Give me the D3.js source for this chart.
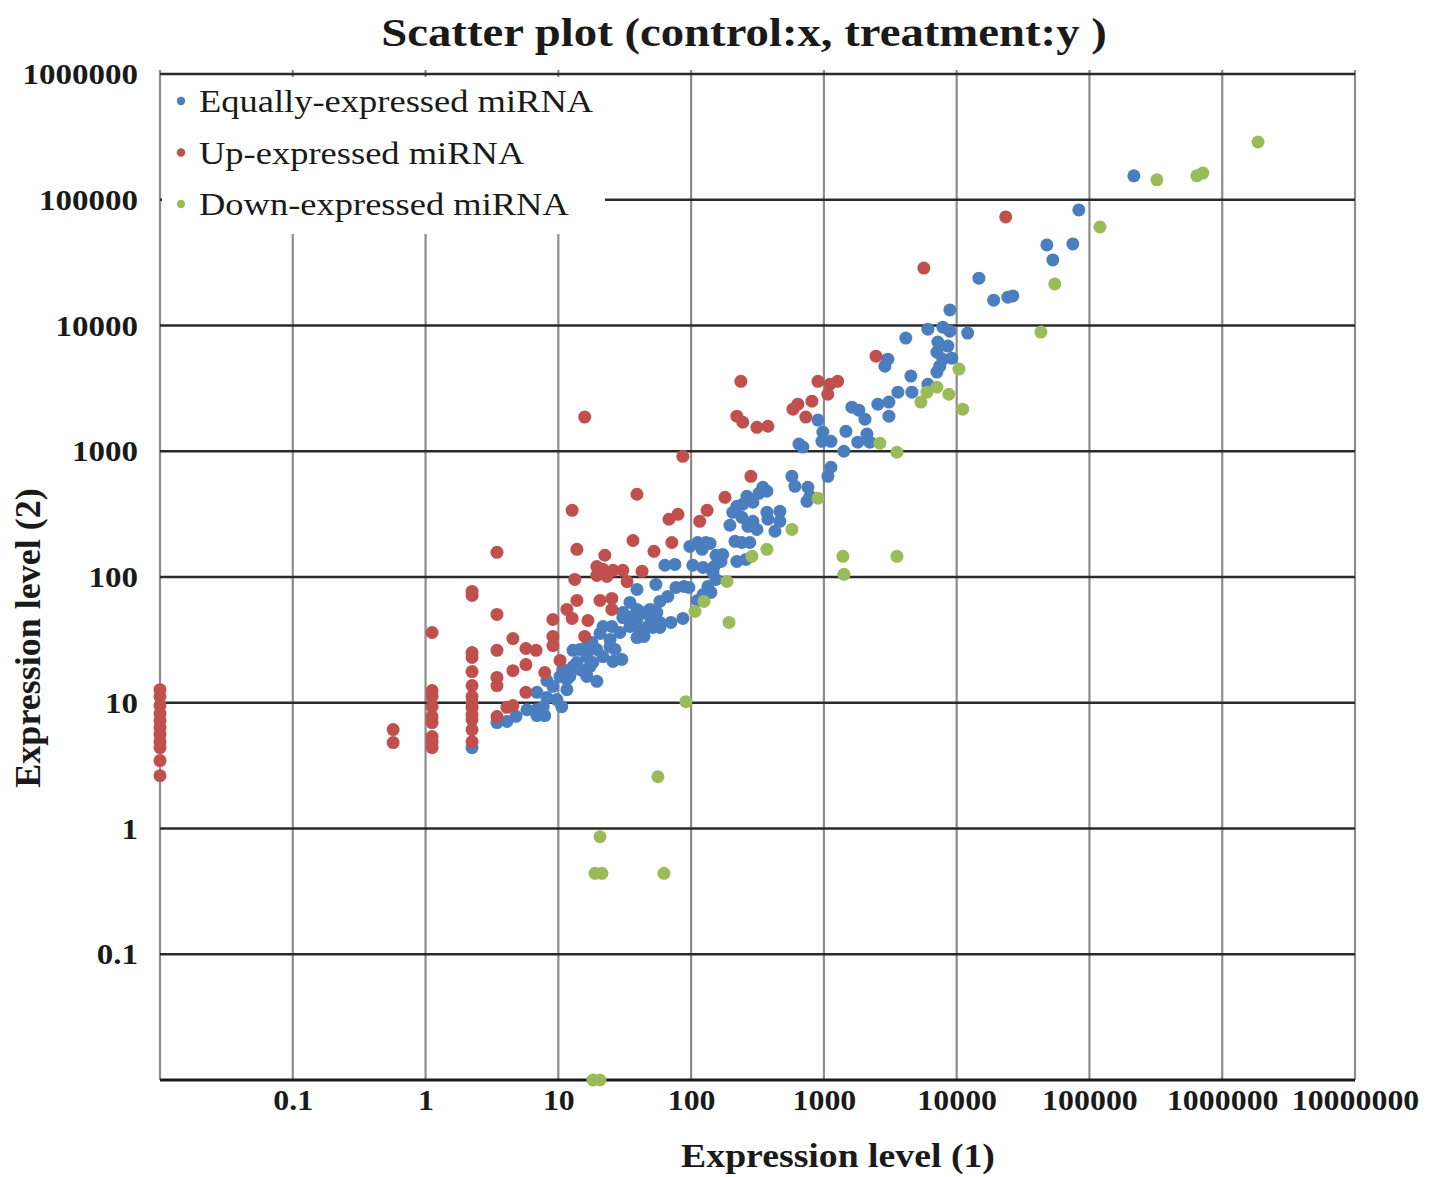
<!DOCTYPE html>
<html>
<head>
<meta charset="utf-8">
<script src="https://cdn.jsdelivr.net/npm/d3@7"></script>
<style>
  html, body { margin: 0; padding: 0; background: #fff; }
  svg { display: block; }
  text { font-family: "Liberation Serif", "Times New Roman", serif; fill: #1a1a1a; }
</style>
</head>
<body>
<svg id="chart" width="1437" height="1177"></svg>
<script>
// Expression values: [control (x), treatment (y)]
const equallyExpressed = [
  [2.24,4.4],[3.45,6.95],[4.1,7.1],[4.8,7.8],[5.8,8.8],[6.9,7.9],[7.9,7.9],[7.7,9.3],[6.8,8.8],
  [6.9,12.1],[8.2,15.0],[8.2,11.0],[9.1,13.5],[9.75,10.6],[10.3,16.2],[10.6,9.3],[10.8,18.4],[11.6,15.3],
  [11.6,12.7],[12.2,16.2],[12.9,26.1],[12.9,19.4],[13.8,20.9],[14.5,26.5],[14.5,18.4],[15.8,17.4],[16.4,28.0],
  [16.4,23.3],[16.4,16.2],[17.3,19.4],[17.9,30.1],[18.2,20.9],[19.5,26.5],[19.5,14.8],
  [20.6,35.6],[21.7,40.4],[21.7,23.3],[24.5,31.9],[24.5,28.0],[25.3,40.4],[25.8,21.3],[26.7,26.5],[29.1,36.2],
  [30.1,22.1],[30.6,52.2],[30.6,47.6],[33.4,48.5],[34.6,62.8],[34.6,40.4],[39.1,79.7],[39.1,55.2],[39.1,45.9],
  [39.1,33.0],[41.1,38.3],[43.4,52.2],[44.2,33.7],[47.3,40.4],[49.0,55.2],[49.0,48.5],[51.5,39.7],[54.3,87.3],
  [55.2,52.2],[58.2,63.9],[58.2,43.5],[58.2,39.7],[66.8,70.1],[70.5,43.5],[76.9,82.6],[88.3,84.1],[86.7,46.8],
  [96.2,82.6],[112,65.1],[123,72.6],[134,84.1],[141,75.4],
  [97.9,175],[112,188],[129,188],[121,166],[139,185],[63.5,124],[75.5,126],[103,124],[123,119],[149,121],
  [168,133],[173,151],[154,149],[146,109],[154,95.7],
  [196,258],[206,327],[214,192],[221,365],[221,133],[241,298],[241,188],[245,379],[259,138],[263,438],
  [268,253],[277,188],[292,393],[292,277],[313,239],[324,463],[347,517],[372,481],[372,327],[379,288],
  [428,231],[466,333],[466,277],[574,632],[605,526],[649,1140],[695,1080],[745,400],[758,517],[785,438],
  [902,1770],[982,1420],[966,1200],[1130,1200],[1130,746],[1072,632],[1415,1000],[1465,1440],[1625,2240],
  [1835,2120],[1800,1180],[2040,1800],[2110,1370],[2220,1180],
  [2550,2370],[2880,4750],[3030,5400],[3090,2460],[3090,1900],[3610,2950],[4140,7940],[4520,3960],[4600,2950],
  [6070,9350],[6070,3410],[7100,6140],[7100,4260],[7210,7380],[7460,4750],[7870,9700],[7870,5400],[8590,6860],
  [8890,13300],[8890,9020],[9200,5500],[12100,8700],[14700,23800],[19000,15900],[24300,16800],[26500,17200],
  [47800,43700],[53000,33200],[75000,44500],[83200,83000],[216000,155000]
];

const upExpressed = [
  [0.01,12.7],[0.01,11.2],[0.01,9.5],[0.01,8.2],[0.01,7.2],[0.01,6.35],[0.01,5.6],[0.01,4.9],[0.01,4.4],
  [0.01,3.47],[0.01,2.63],
  [0.57,6.12],[0.57,4.82],
  [1.12,36.2],[1.12,12.5],[1.12,11.2],[1.12,9.3],[1.12,7.76],[1.12,6.95],[1.12,5.38],[1.12,4.9],[1.12,4.4],
  [2.24,76.8],[2.24,71.4],[2.24,25.1],[2.24,22.9],[2.24,17.7],[2.24,13.7],[2.24,11.2],[2.24,10.0],[2.24,9.2],
  [2.24,8.05],[2.24,7.35],[2.24,6.1],[2.24,4.9],
  [3.45,157],[3.45,50.4],[3.45,26.1],[3.45,15.9],[3.45,13.7],[3.45,7.76],
  [4.1,9.2],[4.55,9.5],[4.55,32.4],[4.55,18.0],[5.7,27],[6.8,26.1],[5.7,20.1],[5.7,12.1],[7.9,17.4],
  [9.1,45.9],[9.1,33.7],[9.1,28.5],[10.3,21.7],[11.6,55.2],[12.7,46.8],[13.3,95.7],[13.8,65.1],[15.8,33.7],
  [16.7,45.1],[12.7,339],[13.8,166],[22.4,149],[19.5,121],[21.7,115],[25.8,113],[30.6,113],[32.9,92],
  [42.7,111],[19.5,103],[23.2,101],[20.6,65.1],[25.3,67.6],[25.3,55.2],[36.5,195],[52.5,160],[71.6,188],
  [68.1,288],[79.6,315],[39.1,455],[86.7,912],[15.8,1870],[116,277],[132,339],[180,430],
  [237,3600],[221,1900],[245,1700],[313,1550],[379,1580],[585,2160],[637,2370],[813,2500],[731,1870],
  [902,3600],[1110,3410],[1270,3600],[1070,2840],[282,632],[2470,5700],[5660,28600],[23400,73000]
];

const downExpressed = [
  [18.2,0.01],[20.6,0.01],[18.9,0.44],[21.3,0.44],[62.4,0.44],[20.6,0.86],[56.2,2.58],[91.4,10.2],
  [107,53.2],[125,63.9],[186,92.2],[193,43.5],[287,146],[372,166],[574,239],[902,423],[1390,146],
  [1415,105],[3550,146],[2640,1160],[3550,982],[5380,2460],[5970,2950],[7100,3230],[8740,2840],
  [10400,4500],[11100,2160],[43100,8860],[54800,21400],[120000,60700],[322000,144000],[644000,155000],
  [714000,163000],[1860000,288000]
];

const seriesNames = ["Equally-expressed miRNA", "Up-expressed miRNA", "Down-expressed miRNA"];
const seriesColors = ["#4A7EBF", "#C0504D", "#9BBB59"];

const xTickValues = [0.1, 1, 10, 100, 1000, 10000, 100000, 1000000, 10000000];
const xTickLabels = ["0.1", "1", "10", "100", "1000", "10000", "100000", "1000000", "10000000"];
const yTickValues = [0.1, 1, 10, 100, 1000, 10000, 100000, 1000000];
const yTickLabels = ["0.1", "1", "10", "100", "1000", "10000", "100000", "1000000"];

const titleText = "Scatter plot (control:x, treatment:y )";
const xTitle = "Expression level (1)";
const yTitle = "Expression level (2)";

// ---- layout ----
const plot = { left: 160, right: 1355, top: 74, bottom: 1080 };
const svg = d3.select("#chart");

// widen glyphs horizontally (the typeface is set a little wide)
function widen(sel, factor) {
  sel.each(function () {
    const len = this.getComputedTextLength();
    d3.select(this).attr("textLength", len * factor).attr("lengthAdjust", "spacingAndGlyphs");
  });
}

const x = d3.scaleLog().domain([0.01, 1e7]).range([plot.left, plot.right]);
const y = d3.scaleLog().domain([0.01, 1e6]).range([plot.bottom, plot.top]);

svg.append("rect").attr("width", 1437).attr("height", 1177).attr("fill", "#fff");

// vertical gridlines (grey), including both plot edges
const vGrid = [0.01].concat(xTickValues);
svg.append("g").selectAll("line").data(vGrid).join("line")
  .attr("x1", d => x(d)).attr("x2", d => x(d))
  .attr("y1", plot.top - 4).attr("y2", plot.bottom)
  .attr("stroke", "#8c8c8c").attr("stroke-width", 2.2);

// horizontal gridlines (dark), including the top border
svg.append("g").selectAll("line").data(yTickValues).join("line")
  .attr("x1", plot.left).attr("x2", plot.right)
  .attr("y1", d => y(d)).attr("y2", d => y(d))
  .attr("stroke", "#2a2a2a").attr("stroke-width", 2.6);

// bottom axis line
svg.append("line")
  .attr("x1", plot.left).attr("x2", plot.right)
  .attr("y1", y(0.01)).attr("y2", y(0.01))
  .attr("stroke", "#1a1a1a").attr("stroke-width", 3);

// tick labels via d3 axes
const xAxis = svg.append("g")
  .attr("transform", `translate(0,${plot.bottom})`)
  .call(d3.axisBottom(x).tickValues(xTickValues).tickSize(0).tickPadding(9)
    .tickFormat((d, i) => xTickLabels[i]));
xAxis.select(".domain").remove();
xAxis.selectAll("text")
  .style("font-family", '"Liberation Serif", serif')
  .style("font-size", "29px").style("font-weight", "bold").attr("fill", "#1a1a1a")
  .call(widen, 1.1);

const yAxis = svg.append("g")
  .attr("transform", `translate(${plot.left},0)`)
  .call(d3.axisLeft(y).tickValues(yTickValues).tickSize(0).tickPadding(22)
    .tickFormat((d, i) => yTickLabels[i]));
yAxis.select(".domain").remove();
yAxis.selectAll("text")
  .style("font-family", '"Liberation Serif", serif')
  .style("font-size", "30px").style("font-weight", "bold").attr("fill", "#1a1a1a")
  .call(widen, 1.10);

// points: equal first, then up, then down on top
const allSeries = [equallyExpressed, upExpressed, downExpressed];
allSeries.forEach((data, i) => {
  svg.append("g").selectAll("circle").data(data).join("circle")
    .attr("cx", d => x(d[0])).attr("cy", d => y(d[1]))
    .attr("r", 6.5).attr("fill", seriesColors[i]);
});

// legend
const legend = svg.append("g");
legend.append("rect")
  .attr("x", plot.left + 2).attr("y", plot.top + 3)
  .attr("width", 443).attr("height", 157).attr("fill", "#fff");
seriesNames.forEach((name, i) => {
  const cy = 101 + i * 51.5;
  legend.append("circle").attr("cx", 181).attr("cy", cy).attr("r", 4.2).attr("fill", seriesColors[i]);
  legend.append("text").attr("x", 199).attr("y", cy).attr("dy", "0.35em")
    .style("font-size", "32px").text(name).call(widen, 1.14);
});

// titles
svg.append("text").attr("x", 744).attr("y", 46).attr("text-anchor", "middle")
  .style("font-size", "41px").style("font-weight", "bold").text(titleText).call(widen, 1.14);
svg.append("text").attr("x", 838).attr("y", 1167).attr("text-anchor", "middle")
  .style("font-size", "34px").style("font-weight", "bold").text(xTitle).call(widen, 1.11);
svg.append("text").attr("transform", "translate(40,638) rotate(-90)").attr("text-anchor", "middle")
  .style("font-size", "36px").style("font-weight", "bold").text(yTitle);
</script>
</body>
</html>
